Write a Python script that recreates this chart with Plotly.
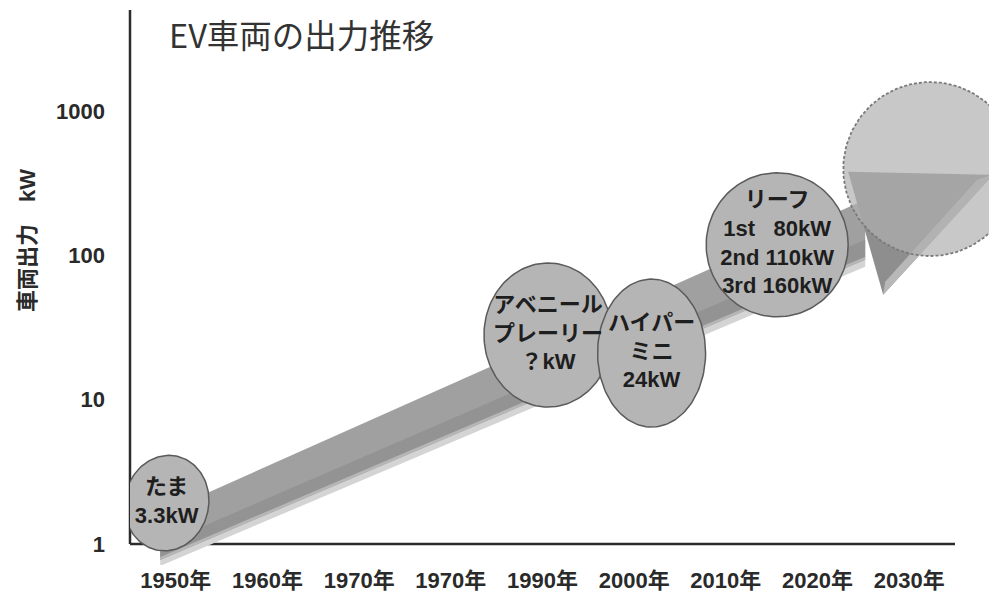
import numpy as np
import plotly.graph_objects as go

# ---------------- data ----------------
year_labels = ["1950年", "1960年", "1970年", "1970年", "1990年",
               "2000年", "2010年", "2020年", "2030年"]
year_pos = list(range(len(year_labels)))

y_tick_vals = [1, 10, 100, 1000]
y_tick_text = ["1", "10", "100", "1000"]

car_labels = ["たま<br>3.3kW",
              "アベニール<br>プレーリー<br>？kW",
              "ハイパー<br>ミニ<br>24kW",
              "リーフ<br>1st\u00a0\u00a0\u00a080kW<br>2nd 110kW<br>3rd 160kW"]
car_pos = [-0.10, 4.06, 5.19, 6.56]      # position along the year axis
car_kw = [1.92, 28.0, 21.0, 118.0]       # kW

trend_pos = [-0.17, 7.52]                # trend arrow, start / end
trend_kw = [1.12, 150.0]

future_pos = 8.23                        # dashed "future" circle
future_kw = 395.0

title_text = "EV車両の出力推移"
y_title = "車両出力\u3000kW"

# ---------------- layout geometry (style) ----------------
PAGE = 8                    # default page margin of the browser
W, H = 997 - PAGE, 592 - PAGE
ML, MT = 130 - PAGE, 10 - PAGE
PLOT_W = W - ML             # 867
PLOT_H = 555
MB = H - MT - PLOT_H
PX_CAT = 825 / 9.0          # pixels per category
PX_DEC = 144.4              # pixels per decade
x_range = [-0.5, -0.5 + PLOT_W / PX_CAT]
BELOW = 21                  # px of plot area below the 1 kW line
y_lo = -BELOW / PX_DEC
y_range = [y_lo, y_lo + PLOT_H / PX_DEC]
AXIS_Y = BELOW / PLOT_H     # paper y of the x-axis line


def xo(pos, dpx):
    return pos + dpx / PX_CAT


def yo(kw, up_px):
    return 10 ** (np.log10(kw) + up_px / PX_DEC)


def ellipse(pos, kw, rx, ry, tilt=0.0, n=140):
    t = np.linspace(0, 2 * np.pi, n)
    ex, ey = rx * np.cos(t), ry * np.sin(t)
    a = np.radians(tilt)
    dx = ex * np.cos(a) - ey * np.sin(a)
    dy = ex * np.sin(a) + ey * np.cos(a)
    return [xo(pos, d) for d in dx], [yo(kw, d) for d in dy]


def px_paper(px, py):
    """reference-image pixel -> paper coords"""
    return (px - 130) / PLOT_W, (565 - py) / PLOT_H


def band(lo0, hi0, lo1, hi1, color):
    """strip of the trend shaft between vertical pixel offsets"""
    x0, x1 = trend_pos
    k0, k1 = trend_kw
    fig.add_trace(go.Scatter(
        x=[x0, x1, x1, x0],
        y=[yo(k0, hi0), yo(k1, hi1), yo(k1, lo1), yo(k0, lo0)],
        fill="toself", fillcolor=color, line=dict(width=0), mode="lines",
        hoverinfo="skip", showlegend=False))


FONT = "Liberation Sans, Noto Sans CJK JP, sans-serif"

fig = go.Figure()

# ---- trend arrow shaft ----
band(-29, -22, -37, -29, "#d4d4d4")      # soft shadow
band(-23, 23, -30, 30, "#a0a0a0")        # body
band(-21, -8, -28, -10, "#939393")       # darker lower half
band(-23, -20, -30, -27, "#b6b6b6")      # highlight edge

# ---- arrow head ----
x1, k1 = trend_pos[1], trend_kw[1]
head = [(-17, 58), (128, 55), (18, -65)]
fig.add_trace(go.Scatter(
    x=[xo(x1, d[0]) for d in head], y=[yo(k1, d[1]) for d in head],
    fill="toself", fillcolor="#8e8e8e", line=dict(width=0), mode="lines",
    hoverinfo="skip", showlegend=False))
bevel = [(128, 55), (18, -65), (20, -52), (112, 50)]
fig.add_trace(go.Scatter(
    x=[xo(x1, d[0]) for d in bevel], y=[yo(k1, d[1]) for d in bevel],
    fill="toself", fillcolor="#b8b8b8", line=dict(width=0), mode="lines",
    hoverinfo="skip", showlegend=False))

# ---- dashed future circle ----
cx, cy = ellipse(future_pos, future_kw, 87, 87)
fig.add_trace(go.Scatter(
    x=cx, y=cy, fill="toself", fillcolor="rgba(175,175,175,0.69)",
    line=dict(color="#7a7a7a", width=1.8, dash="3px,2px"), mode="lines",
    hoverinfo="skip", showlegend=False))

# ---- car bubbles ----
bubble_r = [(42, 48, -12), (64, 72, 0), (54, 74, 0), (71, 72, 0)]
for p, k, (rx, ry, tl) in zip(car_pos, car_kw, bubble_r):
    bx, by = ellipse(p, k, rx, ry, tl)
    fig.add_trace(go.Scatter(
        x=bx, y=by, fill="toself", fillcolor="#b5b5b5",
        line=dict(color="#5a5a5a", width=1.5), mode="lines",
        hoverinfo="skip", showlegend=False))

fig.add_trace(go.Scatter(
    x=car_pos, y=car_kw, mode="text",
    text=["<b>" + t.replace("<br>", "</b><br><b>") + "</b>" for t in car_labels],
    textposition="middle center",
    textfont=dict(family=FONT, size=22, color="#1e1e1e"),
    hoverinfo="skip", showlegend=False, cliponaxis=False))

# ---- axis lines as shapes ----
fig.add_shape(type="line", xref="x", yref="paper", x0=-0.5, x1=8.5,
              y0=AXIS_Y, y1=AXIS_Y,
              line=dict(color="#2b2b2b", width=2.5), layer="below")
fig.add_shape(type="line", xref="paper", yref="paper", x0=0, x1=0,
              y0=AXIS_Y, y1=1,
              line=dict(color="#2b2b2b", width=2.5), layer="below")

# ---- texts ----
tx, ty = px_paper(167, 33)
fig.add_annotation(text=title_text, xref="paper", yref="paper", x=tx, y=ty,
                   xanchor="left", yanchor="middle", showarrow=False,
                   font=dict(family="Noto Sans CJK JP", size=32.5, color="#333333"))
ax_, ay_ = px_paper(28, 241)
fig.add_annotation(text="<b>" + y_title + "</b>", xref="paper", yref="paper",
                   x=ax_, y=ay_, xanchor="center", yanchor="middle",
                   textangle=-90, showarrow=False,
                   font=dict(family=FONT, size=22, color="#2a2a2a"))

fig.update_layout(
    width=W, height=H,
    margin=dict(l=ML, r=0, t=MT, b=MB, pad=0),
    paper_bgcolor="white", plot_bgcolor="white",
    showlegend=False,
    xaxis=dict(range=x_range, tickmode="array", tickvals=year_pos,
               ticktext=["<b>" + t + "</b>" for t in year_labels],
               showgrid=False, zeroline=False, showline=False, ticks="",
               ticklabelstandoff=0,
               tickfont=dict(family=FONT, size=22, color="#2a2a2a")),
    yaxis=dict(type="log", range=y_range, tickmode="array",
               tickvals=y_tick_vals,
               ticktext=["<b>" + t + "</b>" for t in y_tick_text],
               showgrid=False, zeroline=False, showline=False, ticks="",
               ticklabelstandoff=24,
               tickfont=dict(family=FONT, size=22, color="#2a2a2a")),
)

fig.write_html("out.html", config={"displayModeBar": False})
